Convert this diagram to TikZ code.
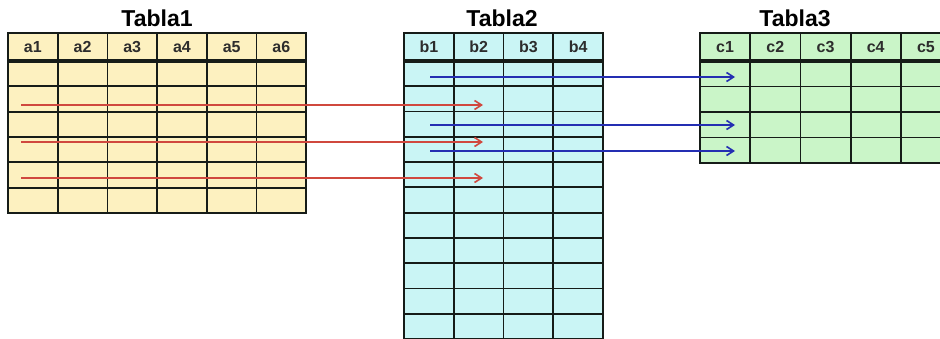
\documentclass[tikz,border=0pt]{standalone}
\usepackage{fontspec}
\setmainfont{Liberation Sans}
\usetikzlibrary{arrows.meta}

\definecolor{paleyellow}{RGB}{253,241,192}
\definecolor{palecyan}{RGB}{202,245,245}
\definecolor{palegreen}{RGB}{202,245,200}
\definecolor{gridline}{RGB}{22,28,24}
\definecolor{labelgray}{RGB}{45,45,45}
\definecolor{linkred}{RGB}{208,72,62}
\definecolor{linkblue}{RGB}{36,46,178}

\tikzset{
  tabletitle/.style={font=\bfseries\fontsize{23}{23}\selectfont, text=black, inner sep=0pt},
  headcell/.style={draw=gridline, line width=1.8pt, anchor=north west, inner sep=0pt, outer sep=0pt,
    minimum height=28pt, font=\bfseries\fontsize{16}{16}\selectfont, text=labelgray},
  datacell/.style={draw=gridline, line width=1.8pt, anchor=north west, inner sep=0pt, outer sep=0pt,
    minimum height=#1},
  headrule/.style={draw=gridline, line width=4pt},
  redlink/.style={draw=linkred, line width=2pt, -{Straight Barb[length=7pt,width=9pt,line width=1.6pt]}},
  bluelink/.style={draw=linkblue, line width=2pt, -{Straight Barb[length=7pt,width=9pt,line width=1.6pt]}},
}

\begin{document}
\begin{tikzpicture}[x=1pt, y=-1pt]
  \useasboundingbox (0,0) rectangle (940,339);
  \clip (0,0) rectangle (940,339);
  \fill[white] (0,0) rectangle (940,339);

  % Tabla1: six columns, six data rows
  \node[tabletitle] (title1) at (157,18) {Tabla1};
  \foreach \c in {1,...,6} {
    \node[headcell, fill=paleyellow, minimum width=49.7pt] (t1h\c) at ({8+(\c-1)*49.7},33) {a\c};
    \foreach \r in {1,...,6}
      \node[datacell=25.33pt, fill=paleyellow, minimum width=49.7pt] (t1r\r c\c) at ({8+(\c-1)*49.7},{61+(\r-1)*25.33}) {};
  }
  \draw[headrule] (t1h1.south west) -- (t1h6.south east);

  % Tabla2: four columns, eleven data rows
  \node[tabletitle] (title2) at (502,18) {Tabla2};
  \foreach \c in {1,...,4} {
    \node[headcell, fill=palecyan, minimum width=49.75pt] (t2h\c) at ({404+(\c-1)*49.75},33) {b\c};
    \foreach \r in {1,...,11}
      \node[datacell=25.27pt, fill=palecyan, minimum width=49.75pt] (t2r\r c\c) at ({404+(\c-1)*49.75},{61+(\r-1)*25.27}) {};
  }
  \draw[headrule] (t2h1.south west) -- (t2h4.south east);
  \draw[gridline, line width=2.6pt] (t2h1.north west) rectangle (t2h4.south east);

  % Tabla3: five columns, four data rows
  \node[tabletitle] (title3) at (795,18) {Tabla3};
  \foreach \c in {1,...,5} {
    \node[headcell, fill=palegreen, minimum width=50.2pt] (t3h\c) at ({700+(\c-1)*50.2},33) {c\c};
    \foreach \r in {1,...,4}
      \node[datacell=25.5pt, fill=palegreen, minimum width=50.2pt] (t3r\r c\c) at ({700+(\c-1)*50.2},{61+(\r-1)*25.5}) {};
  }
  \draw[headrule] (t3h1.south west) -- (t3h5.south east);

  % links from Tabla1 into column b2 of Tabla2
  \coordinate (ra1) at (21,105);   \coordinate (rb1) at (483,105);
  \coordinate (ra2) at (21,142);   \coordinate (rb2) at (483,142);
  \coordinate (ra3) at (21,178);   \coordinate (rb3) at (483,178);
  \draw[redlink] (ra1) -- (rb1);
  \draw[redlink] (ra2) -- (rb2);
  \draw[redlink] (ra3) -- (rb3);

  % links from Tabla2 into column c1 of Tabla3
  \coordinate (ba1) at (430,77);   \coordinate (bb1) at (735,77);
  \coordinate (ba2) at (430,125);  \coordinate (bb2) at (735,125);
  \coordinate (ba3) at (430,151);  \coordinate (bb3) at (735,151);
  \draw[bluelink] (ba1) -- (bb1);
  \draw[bluelink] (ba2) -- (bb2);
  \draw[bluelink] (ba3) -- (bb3);
\end{tikzpicture}
\end{document}
